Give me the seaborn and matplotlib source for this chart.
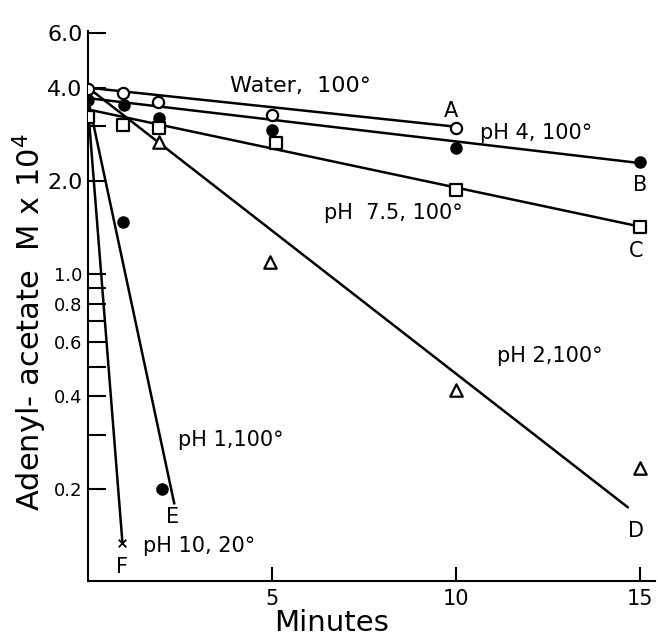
import matplotlib

matplotlib.use("Agg")
import matplotlib.pyplot as plt
import seaborn as sns
from matplotlib.ticker import FixedLocator, FormatStrFormatter, NullFormatter

# measured points (minutes, Adenyl-acetate M x 10^4)
water_t = [0, 0.96, 1.9, 5, 10]
water_c = [3.97, 3.85, 3.60, 3.27, 2.97]
ph4_t = [0, 0.98, 1.93, 5, 10, 15]
ph4_c = [3.66, 3.52, 3.20, 2.92, 2.56, 2.29]
ph75_t = [0, 0.96, 1.93, 5.1, 10, 15]
ph75_c = [3.22, 3.03, 2.97, 2.64, 1.86, 1.42]
ph2_t = [1.93, 4.95, 10, 15]
ph2_c = [2.67, 1.09, 0.42, 0.235]
ph1_t = [0.95, 2.0]
ph1_c = [1.47, 0.20]
ph10_t = [0.93]
ph10_c = [0.134]

# drawn straight lines (start / end)
water_fit_t = [0, 10]
water_fit_c = [4.0, 2.99]
ph4_fit_t = [0, 15]
ph4_fit_c = [3.7, 2.28]
ph75_fit_t = [0, 15]
ph75_fit_c = [3.4, 1.42]
ph2_fit_t = [0, 14.67]
ph2_fit_c = [4.0, 0.175]
ph1_fit_t = [0, 2.34]
ph1_fit_c = [3.66, 0.18]
ph10_fit_t = [0, 0.93]
ph10_fit_c = [3.4, 0.135]

y_major = [0.2, 0.4, 0.6, 0.8, 1.0, 2.0, 4.0, 6.0]
y_minor = [0.3, 0.5, 0.7, 0.9, 3.0]
x_ticks = [5, 10, 15]

sns.set_style("ticks")
plt.rcParams["font.family"] = ["DejaVu Sans"]
for key in ("text.color", "axes.labelcolor", "xtick.color", "ytick.color",
            "axes.edgecolor"):
    plt.rcParams[key] = "black"

fig = plt.figure(figsize=(6.58, 6.35), dpi=100)
ax = fig.add_axes([0.134, 0.085, 0.861, 0.866])

for t, c in [(water_fit_t, water_fit_c), (ph4_fit_t, ph4_fit_c),
             (ph75_fit_t, ph75_fit_c), (ph2_fit_t, ph2_fit_c),
             (ph1_fit_t, ph1_fit_c), (ph10_fit_t, ph10_fit_c)]:
    sns.lineplot(x=t, y=c, ax=ax, color="black", lw=1.8)

kw = dict(ax=ax, edgecolor="black", linewidth=1.6, zorder=5)
sns.scatterplot(x=water_t, y=water_c, marker="o", s=65, color="white", **kw)
sns.scatterplot(x=ph4_t, y=ph4_c, marker="o", s=55, color="black", **kw)
sns.scatterplot(x=ph75_t, y=ph75_c, marker="s", s=85, color="white", **kw)
sns.scatterplot(x=ph2_t, y=ph2_c, marker="^", s=80, color="white", **kw)
sns.scatterplot(x=ph1_t, y=ph1_c, marker="o", s=55, color="black", **kw)
sns.scatterplot(x=ph10_t, y=ph10_c, marker="x", s=30, color="black", ax=ax,
                linewidth=1.3, zorder=5)

ax.set_yscale("log")
ax.set_xlim(0, 15.4)
ax.set_ylim(0.101, 6.1)
ax.yaxis.set_major_locator(FixedLocator(y_major))
ax.yaxis.set_major_formatter(FormatStrFormatter("%.1f"))
ax.yaxis.set_minor_locator(FixedLocator(y_minor))
ax.yaxis.set_minor_formatter(NullFormatter())
ax.xaxis.set_major_locator(FixedLocator(x_ticks))
ax.tick_params(axis="y", which="both", direction="in", length=13, width=1.5,
               labelsize=16, pad=4)
ax.tick_params(axis="x", direction="in", length=10, width=1.5,
               labelsize=15, pad=6)
for lab in ax.get_yticklabels():
    if lab.get_text() in ("0.2", "0.4", "0.6", "0.8", "1.0"):
        lab.set_fontsize(13)

sns.despine(ax=ax)
for side in ("left", "bottom"):
    ax.spines[side].set_linewidth(1.5)

ax.set_xlabel("Minutes", fontsize=21)
ax.xaxis.set_label_coords(0.43, -0.05)
ax.set_ylabel("Adenyl- acetate  M x 10$^{4}$", fontsize=22)
ax.yaxis.set_label_coords(-0.07, 0.47)

txt = dict(fontsize=15, color="black")
ax.text(3.85, 4.05, "Water,  100°", va="center", fontsize=16)
ax.text(9.85, 3.35, "A", ha="center", va="center", **txt)
ax.text(10.65, 2.86, "pH 4, 100°", va="center", **txt)
ax.text(15.0, 1.94, "B", ha="center", va="center", **txt)
ax.text(6.4, 1.57, "pH  7.5, 100°", va="center", **txt)
ax.text(14.9, 1.18, "C", ha="center", va="center", **txt)
ax.text(11.1, 0.54, "pH 2,100°", va="center", **txt)
ax.text(14.9, 0.147, "D", ha="center", va="center", **txt)
ax.text(2.45, 0.29, "pH 1,100°", va="center", **txt)
ax.text(2.3, 0.163, "E", ha="center", va="center", **txt)
ax.text(1.5, 0.131, "pH 10, 20°", va="center", **txt)
ax.text(0.93, 0.112, "F", ha="center", va="center", **txt)

fig.savefig("out.png", dpi=100)
